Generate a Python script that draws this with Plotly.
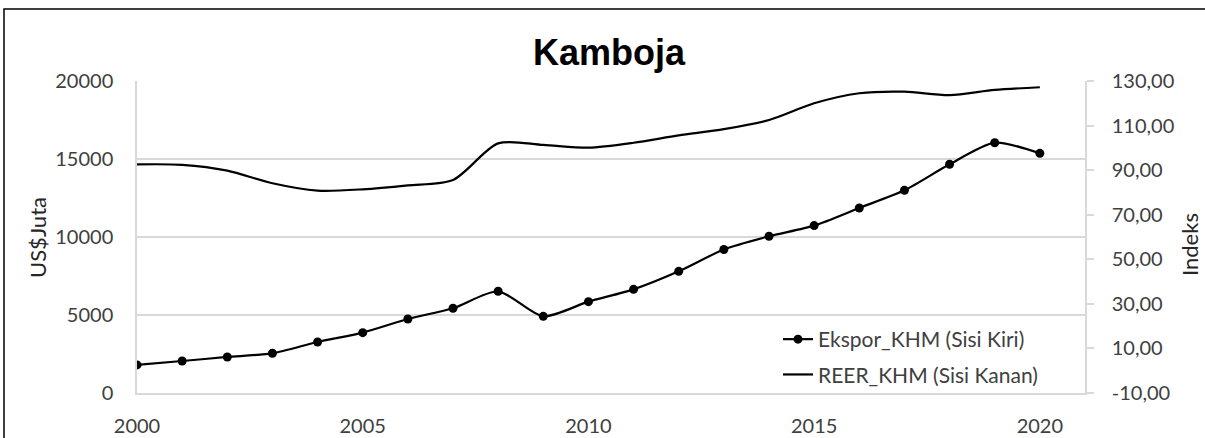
import plotly.graph_objects as go

years = list(range(2000, 2021))
ekspor = [1800, 2050, 2310, 2545, 3270, 3870, 4745, 5430, 6520, 4915, 5855,
          6645, 7800, 9200, 10050, 10730, 11860, 12990, 14660, 16045, 15365]
reer = [92.6, 92.4, 89.8, 84.1, 80.8, 81.4, 83.2, 85.6, 102.0, 101.3, 100.1,
        102.3, 105.6, 108.4, 112.5, 120.0, 124.5, 125.2, 123.7, 126.0, 127.2]

left_ticks = [0, 5000, 10000, 15000, 20000]
left_text = ["0", "5000", "10000", "15000", "20000"]
right_ticks = [-10, 10, 30, 50, 70, 90, 110, 130]
right_text = ["-10,00", "10,00", "30,00", "50,00", "70,00", "90,00", "110,00", "130,00"]
x_ticks = [2000, 2005, 2010, 2015, 2020]

title_text = "Kamboja"
name_ekspor = "Ekspor_KHM (Sisi Kiri)"
name_reer = "REER_KHM (Sisi Kanan)"

FONT = "Lato"
TICKCOL = "#404040"
GRID = "#d9d9d9"

fig = go.Figure()
fig.add_trace(go.Scatter(
    x=years, y=ekspor, name=name_ekspor, mode="lines+markers",
    line=dict(color="black", width=2.2, shape="spline", smoothing=0.7),
    marker=dict(symbol="circle", size=9, color="black"),
    legendgroup="a", yaxis="y"))
fig.add_trace(go.Scatter(
    x=years, y=reer, name=name_reer, mode="lines",
    line=dict(color="black", width=2.2, shape="spline", smoothing=0.8),
    legendgroup="b", yaxis="y2"))

W, H = 1205, 438
L, R, T, B = 137, 1085, 81, 393
pw, ph = R - L, B - T


def px(x):
    return (x - L) / pw


def py(y):
    return (B - y) / ph


fig.update_layout(
    width=W, height=H,
    margin=dict(l=L, r=W - R, t=T, b=H - B, pad=0, autoexpand=False),
    paper_bgcolor="white", plot_bgcolor="white",
    font=dict(family=FONT, size=20, color=TICKCOL),
    showlegend=True,
    legend=dict(x=px(778), y=py(319), xanchor="left", yanchor="top",
                bgcolor="rgba(0,0,0,0)", traceorder="grouped", tracegroupgap=5,
                font=dict(family=FONT, size=21, color="#404040")),
    xaxis=dict(range=[2000, 2021], tickvals=x_ticks, ticktext=[str(v) for v in x_ticks],
               showgrid=False, zeroline=False, showline=True, linecolor=GRID, linewidth=1.5,
               automargin=False,
               ticks="", ticklabelstandoff=14, tickfont=dict(color=TICKCOL, size=20)),
    yaxis=dict(range=[0, 20000], tickvals=left_ticks, ticktext=left_text,
               showgrid=True, gridcolor=GRID, gridwidth=1.5, zeroline=False,
               showline=True, linecolor=GRID, linewidth=1.5, ticks="", automargin=False,
               ticklabelstandoff=18, tickfont=dict(color=TICKCOL, size=20)),
    yaxis2=dict(range=[-10, 130], tickvals=right_ticks, ticktext=right_text,
                overlaying="y", side="right", showgrid=False, zeroline=False,
                showline=True, linecolor=GRID, linewidth=1.5, automargin=False,
                ticks="outside", ticklen=7, tickcolor=GRID, tickwidth=1.5,
                ticklabelstandoff=14, tickfont=dict(color=TICKCOL, size=20)),
    annotations=[
        dict(text=f"<b>{title_text}</b>", xref="paper", yref="paper",
             x=px(609), y=py(52), xanchor="center", yanchor="middle", showarrow=False,
             font=dict(family="Liberation Sans", size=36, color="black")),
        dict(text="US$Juta", xref="paper", yref="paper", x=px(37), y=py(238),
             xanchor="center", yanchor="middle", textangle=-90, showarrow=False,
             font=dict(family=FONT, size=22, color="#262626")),
        dict(text="Indeks", xref="paper", yref="paper", x=px(1189), y=py(245),
             xanchor="center", yanchor="middle", textangle=-90, showarrow=False,
             font=dict(family=FONT, size=22, color="#262626")),
    ],
    shapes=[
        dict(type="rect", xref="paper", yref="paper", x0=px(4), x1=px(1215),
             y0=py(9), y1=py(450), line=dict(color="black", width=1.5), fillcolor="rgba(0,0,0,0)",
             layer="below"),
    ],
)

fig.write_html(
    "out.html",
    config={"displayModeBar": False},
    post_script="document.body.style.margin='0';document.body.style.overflow='hidden';",
)
